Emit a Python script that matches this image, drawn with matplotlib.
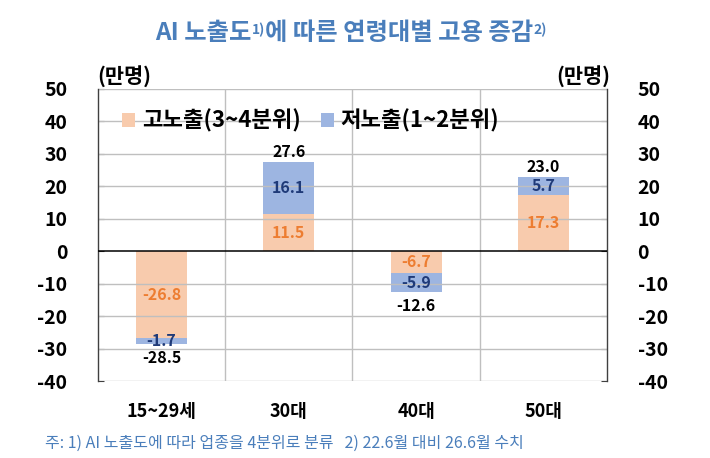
import matplotlib
matplotlib.use("Agg")
import matplotlib.pyplot as plt
import numpy as np

plt.rcParams['font.family'] = ['Noto Sans CJK KR', 'DejaVu Sans']
plt.rcParams['axes.unicode_minus'] = False

# data
groups = ["15~29세", "30대", "40대", "50대"]
high = [-26.8, 11.5, -6.7, 17.3]   # 고노출(3~4분위)
low = [-1.7, 16.1, -5.9, 5.7]      # 저노출(1~2분위)
total = [-28.5, 27.6, -12.6, 23.0]
yticks = [50, 40, 30, 20, 10, 0, -10, -20, -30, -40]

c_high = "#F8CBAD"
c_low = "#9DB5E1"
t_high = "#ED7D31"
t_low = "#1F3A78"
blue_txt = "#4A7EBB"

fig = plt.figure(figsize=(7.1, 4.58), dpi=100)
ax = fig.add_axes([0.138, 0.1681, 0.7169, 0.6376])

x = np.arange(len(groups))
w = 0.4
ax.bar(x, high, w, color=c_high, label="고노출(3~4분위)", zorder=1)
ax.bar(x, low, w, bottom=high, color=c_low, label="저노출(1~2분위)", zorder=1)

ax.set_xlim(-0.5, 3.5)
ax.set_ylim(-40, 50)
ax.set_yticks(yticks)
for v in yticks:
    if v == 0:
        ax.axhline(0, color="black", lw=1.1, zorder=3)
    else:
        ax.axhline(v, color="#BFBFBF", lw=1.0, zorder=2)
for xv in [0.5, 1.5, 2.5]:
    ax.axvline(xv, color="#BFBFBF", lw=1.0, zorder=2)

for s in ["top", "bottom"]:
    ax.spines[s].set_visible(False)
for s in ["left", "right"]:
    ax.spines[s].set_color("#404040")
    ax.spines[s].set_linewidth(1.0)
ax.tick_params(axis="y", direction="in", length=4, color="#404040",
               labelsize=14, pad=22, right=True, labelright=True)
for lab in ax.get_yticklabels():
    lab.set_fontweight("bold")
ax.set_xticks([])

# category labels
for i, g in enumerate(groups):
    ax.text(i, -49.5, g, ha="center", va="center", fontsize=13,
            fontweight="bold", clip_on=False)

# value labels
for i in range(len(groups)):
    ax.text(i, high[i] / 2, f"{high[i]:.1f}", ha="center", va="center",
            color=t_high, fontsize=11.5, fontweight="bold", zorder=5)
    ax.text(i, high[i] + low[i] / 2, f"{low[i]:.1f}", ha="center", va="center",
            color=t_low, fontsize=11.5, fontweight="bold", zorder=5)
    off = 2.9 if total[i] > 0 else -4.3
    ax.text(i, total[i] + off, f"{total[i]:.1f}", ha="center", va="center",
            color="black", fontsize=11.5, fontweight="bold", zorder=5)

leg = ax.legend(loc="center left", bbox_to_anchor=(0.047, 0.89), ncol=2,
                frameon=False, prop={"size": 16, "weight": "bold"},
                handlelength=0.6, handleheight=0.6,
                handletextpad=0.3, columnspacing=0.9, borderaxespad=0.0,
                borderpad=0.0)

# unit labels
fig.text(97 / 710, 1 - 77 / 458, "(만명)", ha="left", va="center", fontsize=15, fontweight="bold")
fig.text(610 / 710, 1 - 77 / 458, "(만명)", ha="right", va="center", fontsize=15, fontweight="bold")

# title with superscripts
pieces = [("AI 노출도", 17.5, 0), ("1)", 10, 6), ("에 따른 연령대별 고용 증감", 17.5, 0), ("2)", 10, 6)]
fig.canvas.draw()
r = fig.canvas.get_renderer()
arts = []
widths = []
for s, fs, dy in pieces:
    t = fig.text(0, 0, s, fontsize=fs, fontweight="bold", color=blue_txt,
                 ha="left", va="baseline")
    bb = t.get_window_extent(renderer=r)
    arts.append((t, dy))
    widths.append(bb.width)
xpos = 351 - sum(widths) / 2
base = 458 - 40
for (t, dy), wd in zip(arts, widths):
    t.set_position((xpos / 710, (base + dy) / 458))
    xpos += wd

fig.text(45 / 710, 1 - 443 / 458, "주: 1) AI 노출도에 따라 업종을 4분위로 분류   2) 22.6월 대비 26.6월 수치",
         ha="left", va="center", fontsize=11.5, color=blue_txt)

fig.savefig("out.png", dpi=100)
